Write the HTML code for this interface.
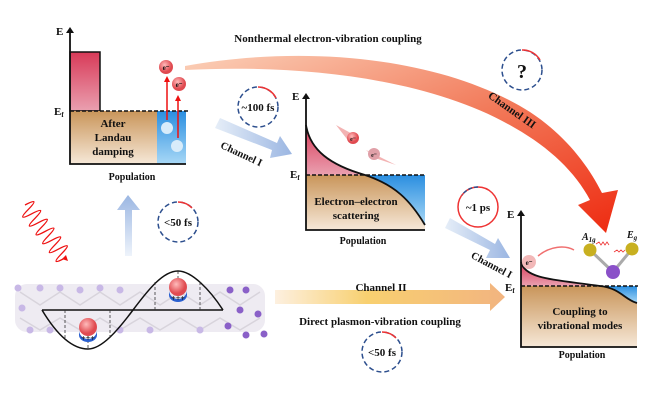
<!DOCTYPE html>
<html><head><meta charset="utf-8"><style>
html,body{margin:0;padding:0;background:#fff;width:650px;height:400px;overflow:hidden}
text{font-family:"Liberation Serif",serif;font-weight:bold;fill:#111}
</style></head><body>
<svg width="650" height="400" viewBox="0 0 650 400" xmlns="http://www.w3.org/2000/svg">
<defs>
<linearGradient id="red1" x1="0" y1="0" x2="0" y2="1"><stop offset="0" stop-color="#d83a58"/><stop offset="1" stop-color="#eaa0b0"/></linearGradient>
<linearGradient id="brown" x1="0" y1="0" x2="0" y2="1"><stop offset="0" stop-color="#c9955a"/><stop offset="1" stop-color="#f6e8d8"/></linearGradient>
<linearGradient id="blue" x1="0" y1="0" x2="0" y2="1"><stop offset="0" stop-color="#2a8ee0"/><stop offset="1" stop-color="#a8d8f6"/></linearGradient>
<linearGradient id="ch3" x1="0" y1="0" x2="1" y2="1"><stop offset="0" stop-color="#fbd0b8"/><stop offset="0.5" stop-color="#f27a5a"/><stop offset="1" stop-color="#ee2a10"/></linearGradient>
<linearGradient id="bl" x1="0" y1="0" x2="1" y2="0"><stop offset="0" stop-color="#e6eef8"/><stop offset="1" stop-color="#9bb6e2"/></linearGradient>
<linearGradient id="blu" x1="0" y1="1" x2="0" y2="0"><stop offset="0" stop-color="#eef3fb"/><stop offset="1" stop-color="#9bb6e2"/></linearGradient>
<linearGradient id="or" x1="0" y1="0" x2="1" y2="0"><stop offset="0" stop-color="#fdf0e0"/><stop offset="0.4" stop-color="#f8d070"/><stop offset="1" stop-color="#f2b480"/></linearGradient>
<radialGradient id="el" cx="0.4" cy="0.35"><stop offset="0" stop-color="#fbb"/><stop offset="1" stop-color="#e04a50"/></radialGradient>
</defs>

<!-- Channel III big arrow -->
<path d="M185,66 C300,45 440,55 530,112 C565,135 588,165 602,193 L618,190 L606,233 L578,205 L590,200 C575,172 550,148 515,128 C430,78 300,64 185,70Z" fill="url(#ch3)"/>
<text x="328" y="42" font-size="11" text-anchor="middle">Nonthermal electron-vibration coupling</text>
<text x="510" y="113" font-size="11" text-anchor="middle" transform="rotate(35 510 113)">Channel III</text>
<circle cx="522" cy="70" r="20" fill="none" stroke="#2d4f8e" stroke-width="1.5" stroke-dasharray="5,3"/>
<path d="M522,50 A20,20 0 0 1 540,60" fill="none" stroke="#e33" stroke-width="1.5"/>
<text x="522" y="78" font-size="20" text-anchor="middle">?</text>

<!-- Panel 1 -->
<rect x="70" y="52" width="30" height="59" fill="url(#red1)" stroke="#111" stroke-width="1.5"/>
<rect x="70" y="111" width="87" height="53" fill="url(#brown)"/>
<rect x="157" y="111" width="29" height="53" fill="url(#blue)"/>
<line x1="70" y1="111" x2="188" y2="111" stroke="#111" stroke-width="1.5" stroke-dasharray="4,2"/>
<path d="M70,30 L70,164 L186,164" fill="none" stroke="#111" stroke-width="1.8"/>
<path d="M66,33 L70,27 L74,33Z" fill="#111"/>
<text x="56" y="35" font-size="11">E</text>
<text x="54" y="115" font-size="11">E<tspan font-size="7" dy="2">f</tspan></text>
<text x="113" y="127" font-size="11" text-anchor="middle">After</text>
<text x="113" y="141" font-size="11" text-anchor="middle">Landau</text>
<text x="113" y="155" font-size="11" text-anchor="middle">damping</text>
<text x="132" y="180" font-size="10" text-anchor="middle">Population</text>
<circle cx="167" cy="128" r="6" fill="#d8ecfa"/><circle cx="177" cy="146" r="6" fill="#d8ecfa"/>
<line x1="167" y1="120" x2="167" y2="80" stroke="#e11" stroke-width="1.5"/><path d="M164,82 L167,76 L170,82Z" fill="#e11"/>
<line x1="178" y1="138" x2="178" y2="100" stroke="#e11" stroke-width="1.5"/><path d="M175,101 L178,95 L181,101Z" fill="#e11"/>
<circle cx="166" cy="67" r="7" fill="url(#el)"/><text x="166" y="70" font-size="7" text-anchor="middle">e⁻</text>
<circle cx="179" cy="84" r="7" fill="url(#el)"/><text x="179" y="87" font-size="7" text-anchor="middle">e⁻</text>

<!-- ~100 fs -->
<circle cx="258" cy="107" r="20" fill="none" stroke="#2d4f8e" stroke-width="1.5" stroke-dasharray="5,3"/>
<path d="M258,87 A20,20 0 0 1 276,98" fill="none" stroke="#e33" stroke-width="1.5"/>
<text x="258" y="111" font-size="11" text-anchor="middle">~100 fs</text>

<!-- Channel I arrow 1 -->
<path d="M215,128 L272,150 L270,158 L292,154 L280,136 L277,143 L220,118Z" fill="url(#bl)"/>
<text x="240" y="157" font-size="10.5" text-anchor="middle" transform="rotate(25 240 157)">Channel I</text>

<!-- Panel 2 -->
<path d="M306,125 C310,150 330,165 365,175 L306,175Z" fill="url(#red1)"/>
<path d="M306,175 L365,175 C395,185 410,200 425,225 L425,230 L306,230Z" fill="url(#brown)"/>
<path d="M365,175 L425,175 L425,225 C410,200 395,185 365,175Z" fill="url(#blue)"/>
<path d="M306,125 C310,150 330,165 365,175 C395,185 410,200 425,225" fill="none" stroke="#111" stroke-width="1.8"/>
<line x1="306" y1="175" x2="426" y2="175" stroke="#111" stroke-width="1.5" stroke-dasharray="4,2"/>
<path d="M306,96 L306,230 L425,230" fill="none" stroke="#111" stroke-width="1.8"/>
<path d="M302,99 L306,93 L310,99Z" fill="#111"/>
<text x="292" y="100" font-size="11">E</text>
<text x="290" y="178" font-size="11">E<tspan font-size="7" dy="2">f</tspan></text>
<text x="356" y="205" font-size="11" text-anchor="middle">Electron–electron</text>
<text x="356" y="219" font-size="11" text-anchor="middle">scattering</text>
<text x="363" y="244" font-size="10" text-anchor="middle">Population</text>
<path d="M336,125 L358,137 L350,143Z" fill="#f0a0a0" opacity="0.8"/>
<circle cx="353" cy="138" r="6" fill="url(#el)"/><text x="353" y="141" font-size="6" text-anchor="middle">e⁻</text>
<path d="M366,150 L396,165 L375,158Z" fill="#f0a0a0" opacity="0.8"/>
<circle cx="374" cy="154" r="6" fill="#e0a0a8"/><text x="374" y="157" font-size="6" text-anchor="middle">e⁻</text>

<!-- ~1 ps -->
<circle cx="478" cy="207" r="20" fill="none" stroke="#e33" stroke-width="1.5"/>
<path d="M478,187 A20,20 0 0 0 462,195" fill="none" stroke="#2d4f8e" stroke-width="1.5" stroke-dasharray="4,2"/>
<text x="478" y="211" font-size="11" text-anchor="middle">~1 ps</text>

<!-- Channel I arrow 2 -->
<path d="M445,228 L490,250 L486,258 L510,258 L498,238 L495,244 L450,218Z" fill="url(#bl)"/>
<text x="490" y="268" font-size="10.5" text-anchor="middle" transform="rotate(28 490 268)">Channel I</text>

<!-- Panel 3 -->
<path d="M521,262 C525,280 560,280 600,286 L521,286Z" fill="url(#red1)"/>
<rect x="521" y="286" width="116" height="61" fill="url(#brown)"/>
<path d="M600,286 L637,286 L637,303 C625,300 618,288 600,286Z" fill="url(#blue)"/>
<path d="M521,262 C525,280 560,280 600,286 C620,288 625,300 637,303" fill="none" stroke="#111" stroke-width="1.8"/>
<line x1="521" y1="286" x2="638" y2="286" stroke="#111" stroke-width="1.5" stroke-dasharray="4,2"/>
<path d="M521,213 L521,347 L637,347" fill="none" stroke="#111" stroke-width="1.8"/>
<path d="M517,216 L521,210 L525,216Z" fill="#111"/>
<text x="507" y="218" font-size="11">E</text>
<text x="505" y="291" font-size="11">E<tspan font-size="7" dy="2">f</tspan></text>
<text x="580" y="315" font-size="11" text-anchor="middle">Coupling to</text>
<text x="580" y="329" font-size="11" text-anchor="middle">vibrational modes</text>
<text x="582" y="358" font-size="10" text-anchor="middle">Population</text>
<circle cx="529" cy="262" r="7" fill="#f2b8b8"/><text x="529" y="265" font-size="7" text-anchor="middle">e⁻</text>
<path d="M538,256 C550,246 565,245 574,250" fill="none" stroke="#f07070" stroke-width="1.5"/>
<line x1="590" y1="250" x2="613" y2="272" stroke="#aaa" stroke-width="3"/>
<line x1="632" y1="249" x2="613" y2="272" stroke="#aaa" stroke-width="3"/>
<circle cx="590" cy="250" r="6.5" fill="#c8b020"/><circle cx="632" cy="249" r="6.5" fill="#c8b020"/>
<circle cx="613" cy="272" r="7" fill="#8a50c8"/>
<path d="M596,244 l3,-2 l2,3 l2,-3 l2,3 l2,-3 l2,3" fill="none" stroke="#e33" stroke-width="0.8"/>
<path d="M614,252 l3,-2 l2,2 l2,-2 l2,2 l2,-2" fill="none" stroke="#e33" stroke-width="0.8"/>
<text x="582" y="240" font-size="10" font-style="italic">A<tspan font-size="7" dy="2">1g</tspan></text>
<text x="627" y="238" font-size="10" font-style="italic">E<tspan font-size="7" dy="2">g</tspan></text>

<!-- Channel II arrow -->
<path d="M275,290 L490,290 L490,283 L505,297 L490,311 L490,304 L275,304Z" fill="url(#or)"/>
<text x="381" y="291" font-size="11" text-anchor="middle">Channel II</text>
<text x="380" y="325" font-size="11" text-anchor="middle">Direct plasmon-vibration coupling</text>
<circle cx="382" cy="352" r="20" fill="none" stroke="#2d4f8e" stroke-width="1.5" stroke-dasharray="5,3"/>
<path d="M382,332 A20,20 0 0 1 396,338" fill="none" stroke="#e33" stroke-width="1.5"/>
<text x="382" y="356" font-size="11" text-anchor="middle">&lt;50 fs</text>

<!-- Up arrow -->
<path d="M125,256 L125,210 L117,210 L128,195 L140,210 L132,210 L132,256Z" fill="url(#blu)"/>
<circle cx="178" cy="222" r="20" fill="none" stroke="#2d4f8e" stroke-width="1.5" stroke-dasharray="5,3"/>
<path d="M178,202 A20,20 0 0 1 192,208" fill="none" stroke="#e33" stroke-width="1.5"/>
<text x="178" y="226" font-size="11" text-anchor="middle">&lt;50 fs</text>

<!-- light wave -->
<path d="M25,205 Q41.1,196.4 28.3,209.4 T31.7,213.8 T35,218.3 T38.3,222.7 T41.7,227.1 T45,231.5 T48.3,235.9 T51.7,240.3 T55,244.8 T58.3,249.2 T61.7,253.6 T65,258" fill="none" stroke="#e11" stroke-width="1.3"/>
<path d="M62,259 L68,261 L66,255Z" fill="#e11"/>

<!-- crystal slab -->
<rect x="15" y="284" width="250" height="48" rx="12" fill="#eeebf2"/>
<g stroke="#d8d4dc" stroke-width="1.5" fill="none">
<path d="M20,292 L40,305 L60,292 L80,305 L100,292 L120,305 L140,292 L160,305 L180,292 L200,305 L220,292 L240,305 L260,292"/>
<path d="M20,318 L40,330 L60,318 L80,330 L100,318 L120,330 L140,318 L160,330 L180,318 L200,330 L220,318 L240,330 L260,318"/>
</g>
<g fill="#c8b8e6">
<circle cx="18" cy="288" r="3.5"/><circle cx="40" cy="288" r="3.5"/><circle cx="60" cy="288" r="3.5"/><circle cx="80" cy="290" r="3.5"/><circle cx="100" cy="288" r="3.5"/><circle cx="120" cy="290" r="3.5"/>
<circle cx="22" cy="308" r="3.5"/><circle cx="30" cy="330" r="3.5"/><circle cx="50" cy="330" r="3.5"/><circle cx="120" cy="330" r="3.5"/><circle cx="150" cy="330" r="3.5"/><circle cx="200" cy="330" r="3.5"/>
</g>
<g fill="#8a60c8">
<circle cx="230" cy="290" r="3.5"/><circle cx="246" cy="290" r="3.5"/><circle cx="240" cy="310" r="3.5"/><circle cx="258" cy="314" r="3.5"/><circle cx="246" cy="335" r="3.5"/><circle cx="264" cy="334" r="3.5"/><circle cx="228" cy="326" r="3.5"/>
</g>
<line x1="42" y1="310" x2="223" y2="310" stroke="#111" stroke-width="1.5"/>
<path d="M42,310 C60,340 75,349 88,349 C102,349 118,330 133,310 C148,290 163,271 178,271 C192,271 210,290 223,310" fill="none" stroke="#111" stroke-width="1.5"/>
<g stroke="#333" stroke-width="0.8" stroke-dasharray="3,2">
<line x1="65" y1="310" x2="65" y2="338"/><line x1="110" y1="310" x2="110" y2="338"/>
<line x1="155" y1="310" x2="155" y2="282"/><line x1="200" y1="310" x2="200" y2="282"/>
<line x1="88" y1="335" x2="88" y2="349"/><line x1="178" y1="271" x2="178" y2="285"/>
</g>
<circle cx="88" cy="327" r="9" fill="url(#el)"/><path d="M79,330 A9,9 0 0 0 97,330 L97,335 A9,7 0 0 1 79,335Z" fill="#2a60d0"/>
<text x="88" y="341" font-size="8" text-anchor="middle">+++</text>
<circle cx="178" cy="287" r="9" fill="url(#el)"/><path d="M169,290 A9,9 0 0 0 187,290 L187,295 A9,7 0 0 1 169,295Z" fill="#2a60d0"/>
<text x="178" y="301" font-size="8" text-anchor="middle">+++</text>
</svg>
</body></html>
